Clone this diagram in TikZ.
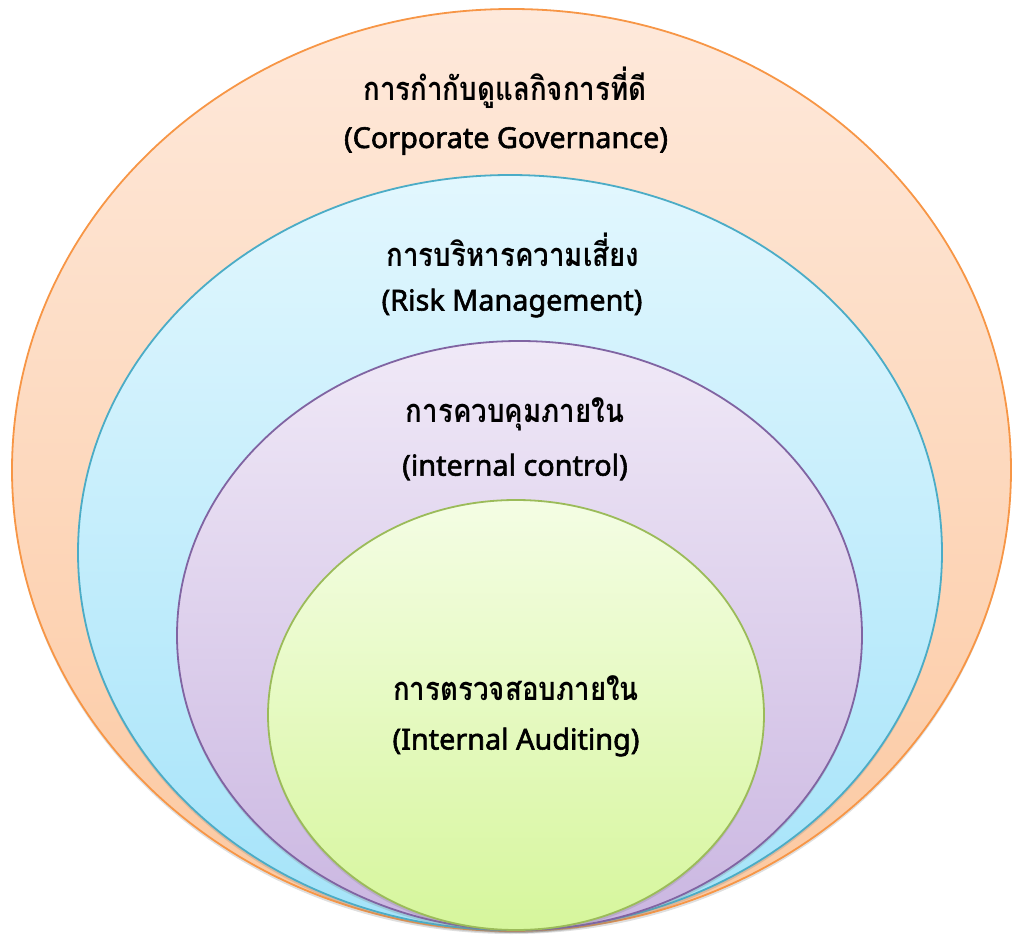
\documentclass[tikz,border=0pt]{standalone}
\usepackage{fontspec}
\setmainfont[Script=Thai]{Loma}
\newfontfamily\latinfont[FakeBold=2]{Noto Sans}
\usetikzlibrary{shadows}
\newcommand{\thaitall}[1]{\scalebox{1.02}[1.2]{#1}}
\definecolor{govline}{HTML}{F79646}
\definecolor{govtop}{HTML}{FEE9DB}
\definecolor{govbot}{HTML}{FCC8A0}
\definecolor{riskline}{HTML}{4BACC6}
\definecolor{risktop}{HTML}{E2F7FE}
\definecolor{riskbot}{HTML}{A4E3F9}
\definecolor{ctrlline}{HTML}{8064A2}
\definecolor{ctrltop}{HTML}{F0E9F7}
\definecolor{ctrlbot}{HTML}{CAB6E1}
\definecolor{auditline}{HTML}{9BBB59}
\definecolor{audittop}{HTML}{F4FDE4}
\definecolor{auditbot}{HTML}{D6F69C}
\begin{document}
\begin{tikzpicture}[x=1pt,y=-1pt,
	ring/.style={line width=1.8pt, drop shadow={shadow xshift=0pt, shadow yshift=-3pt, opacity=.25}},
	label/.style={font=\fontsize{27.2}{30}\selectfont\bfseries, inner sep=0pt},
	latinlabel/.style={font=\fontsize{28.8}{32}\selectfont\latinfont, inner sep=0pt}]
	\useasboundingbox (0,0) rectangle (1013,936);
	% outer ring
	\draw[ring, draw=govline, top color=govtop, bottom color=govbot] (511.5,470) ellipse (499.5 and 461);
	\draw[ring, draw=riskline, top color=risktop, bottom color=riskbot] (510,552.5) ellipse (432 and 377.5);
	\draw[ring, draw=ctrlline, top color=ctrltop, bottom color=ctrlbot] (519.5,635.5) ellipse (342.5 and 294.5);
	\draw[ring, draw=auditline, top color=audittop, bottom color=auditbot] (516,715) ellipse (248 and 215);
	% texts
	\node[label] (govth) at (505,88) {\thaitall{การกำกับดูแลกิจการที่ดี}};
	\node[latinlabel] (goven) at (506,141) {(Corporate Governance)};
	\node[label] (riskth) at (513,250) {\thaitall{การบริหารความเสี่ยง}};
	\node[latinlabel] (risken) at (512,303) {(Risk Management)};
	\node[label] (ctrlth) at (515,414) {\thaitall{การควบคุมภายใน}};
	\node[latinlabel] (ctrlen) at (515,467) {(internal control)};
	\node[label] (auditth) at (516,688) {\thaitall{การตรวจสอบภายใน}};
	\node[latinlabel] (auditen) at (516,742) {(Internal Auditing)};
\end{tikzpicture}
\end{document}
